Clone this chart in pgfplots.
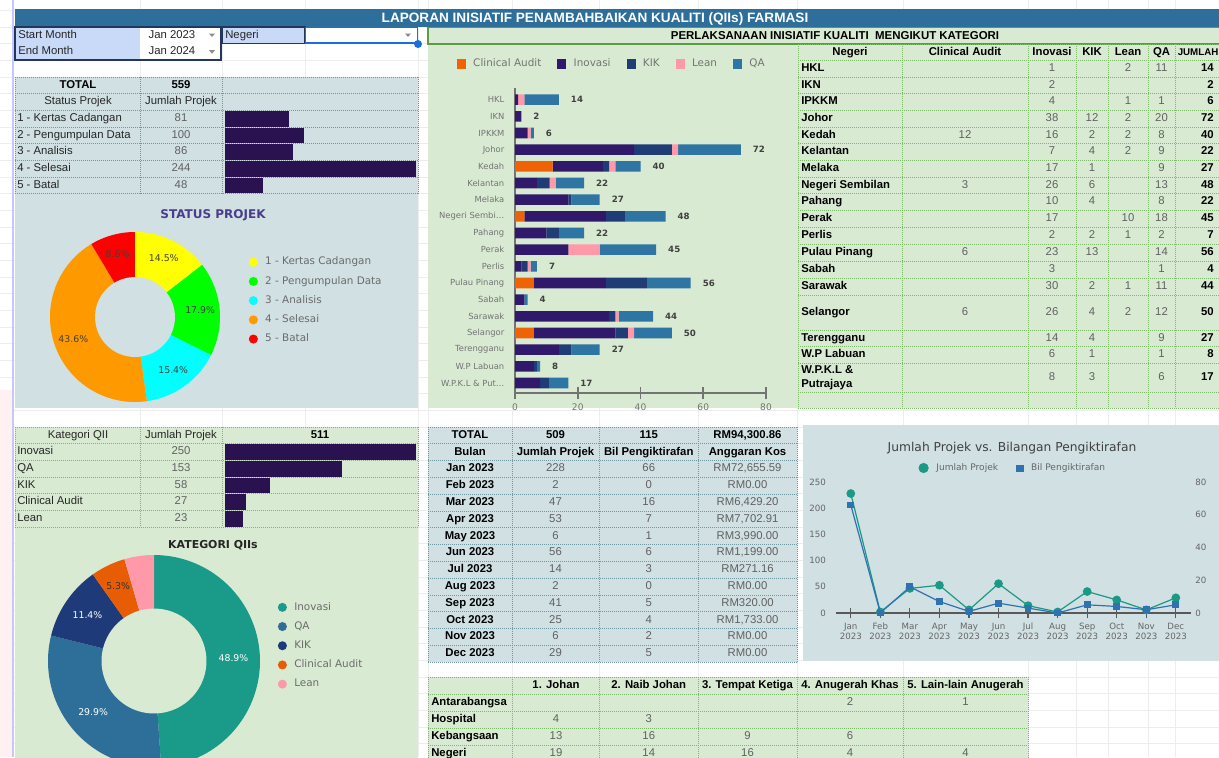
\documentclass[border=0pt]{standalone}
\usepackage{fontspec}
\setmainfont{Liberation Sans}
\newfontfamily\dv{DejaVu Sans}
\usepackage{pgfplots}
\pgfplotsset{compat=1.18}
\usepackage{pgfplotstable}

\definecolor{bgB}{HTML}{D0E0E3}
\definecolor{bgG}{HTML}{D9EAD3}
\definecolor{dotB}{HTML}{6F98A3}
\definecolor{dotG}{HTML}{7DB86A}
\definecolor{titleB}{HTML}{2E6E9B}
\definecolor{filt}{HTML}{C9DAF8}
\definecolor{navyb}{HTML}{23375E}
\definecolor{selB}{HTML}{1A6FE0}
\definecolor{mini}{HTML}{2A1150}
\definecolor{cCA}{HTML}{F06305}
\definecolor{cIno}{HTML}{30196B}
\definecolor{cKIK}{HTML}{1F3C77}
\definecolor{cLean}{HTML}{FF99AA}
\definecolor{cQA}{HTML}{2E75A3}
\definecolor{kIno}{HTML}{1A9A88}
\definecolor{kQA}{HTML}{2E6F99}
\definecolor{kKIK}{HTML}{1F3A78}
\definecolor{kCA}{HTML}{E85D04}
\definecolor{kLean}{HTML}{FF99AA}
\definecolor{sYel}{HTML}{FFFF00}
\definecolor{sGrn}{HTML}{00FF00}
\definecolor{sCya}{HTML}{00FFFF}
\definecolor{sOra}{HTML}{FF9900}
\definecolor{sRed}{HTML}{FF0000}
\definecolor{lTeal}{HTML}{1A9A85}
\definecolor{lBlue}{HTML}{2F72B0}
\definecolor{ptitle}{HTML}{4B3D8C}
\definecolor{hdrG}{HTML}{5E9A45}

\pgfplotstableread{
idx CA Ino KIK Lean QA Tot
17 0 1 0 2 11 14
16 0 2 0 0 0 2
15 0 4 0 1 1 6
14 0 38 12 2 20 72
13 12 16 2 2 8 40
12 0 7 4 2 9 22
11 0 17 1 0 9 27
10 3 26 6 0 13 48
9 0 10 4 0 8 22
8 0 17 0 10 18 45
7 0 2 2 1 2 7
6 6 23 13 0 14 56
5 0 3 0 0 1 4
4 0 30 2 1 11 44
3 6 26 4 2 12 50
2 0 14 4 0 9 27
1 0 6 1 0 1 8
0 0 8 3 0 6 17
}\bardata

\pgfplotstableread{
i jp bp
0 228 66
1 2 0
2 47 16
3 53 7
4 6 1
5 56 6
6 14 3
7 2 0
8 41 5
9 25 4
10 6 2
11 29 5
}\linedata

\newcommand{\slice}[4]{%
  \pgfmathsetmacro\angA{90-360/(#3)*(#2)}%
  \pgfmathsetmacro\angB{90-360/(#3)*(#1)}%
  \addplot[fill=#4, draw=none, domain=\angA:\angB, samples=61] ({cos(x)},{sin(x)}) -- (axis cs:0,0) -- cycle;
}

\tikzset{
  T/.style={inner sep=0pt, text height=6pt, text depth=1.6pt, font=\fontsize{8.5}{10}\selectfont, text=black!85},
  TB/.style={T, font=\fontsize{8.5}{10}\selectfont\bfseries, text=black},
  TG/.style={T, text=black!62},
  dB/.style={draw=dotB, line width=0.5pt, dash pattern=on 0.7pt off 0.8pt},
  dG/.style={draw=dotG, line width=0.5pt, dash pattern=on 0.7pt off 0.8pt},
}

\begin{document}
\begin{tikzpicture}
\useasboundingbox (0,0) rectangle (914.25pt,-567.75pt);
\clip (0,0) rectangle (914.25pt,-567.75pt);

\begin{scope}[x=0.75pt,y=-0.75pt]
% sheet background
\fill[white] (0,0) rectangle (1219,757);
\foreach \xx in {140,222,305,418,428,512.5,599.5,698,797,903,1028,1076,1108,1148,1175}
  \draw[black!7, line width=0.4pt] (\xx,0) -- (\xx,757);
\foreach \k in {0,...,45}
  \draw[black!7, line width=0.4pt] (0,{10.33+16.667*\k}) -- (1219,{10.33+16.667*\k});
\fill[pink!22] (0,390) rectangle (12,757);
\draw[blue!22, line width=0.8pt] (13,0) -- (13,757);

% title bar
\fill[titleB] (15,9) rectangle (1219,27);
\node[text=white, font=\fontsize{10.2}{11}\selectfont\bfseries, inner sep=0pt] at (595,18.5) {LAPORAN INISIATIF PENAMBAHBAIKAN KUALITI (QIIs) FARMASI};

% filters
\fill[filt] (15,27) rectangle (140,60);
\fill[white] (140,27) rectangle (221,60);
\draw[navyb, line width=0.8pt] (15,27) rectangle (221,60);
\node[T, anchor=west] at (18,35.3) {Start Month};
\node[T, anchor=west] at (18,52) {End Month};
\node[T] at (172,35.3) {Jan 2023};
\node[T] at (172,52) {Jan 2024};
\fill[black!45] (209,33.5) -- (215,33.5) -- (212,37) -- cycle;
\fill[black!45] (209,50.2) -- (215,50.2) -- (212,53.7) -- cycle;
\fill[filt] (222,27) rectangle (305,43.5);
\draw[navyb, line width=0.8pt] (222,27) rectangle (305,43.5);
\node[T, anchor=west] at (225,35.3) {Negeri};
\fill[white] (305,27) rectangle (418,43.5);
\draw[selB, line width=1.3pt] (305.5,27.5) rectangle (417.5,43);
\fill[black!45] (405,33.5) -- (411,33.5) -- (408,37) -- cycle;
\fill[selB] (418,44) circle (4);

% ===== status table + chart panel
\fill[bgB] (15,77) rectangle (418,408);
\foreach \yy in {77,93.7,110.3,127,143.7,160.3,177,193.7} \draw[dB] (15,\yy) -- (418,\yy);
\foreach \xx in {15,140,222,418} \draw[dB] (\xx,77) -- (\xx,193.7);
\node[TB] at (78,85.3) {TOTAL};
\node[TB] at (181,85.3) {559};
\node[T] at (78,102) {Status Projek};
\node[T] at (181,102) {Jumlah Projek};
\foreach \lab/\val [count=\i] in {1 - Kertas Cadangan/81,2 - Pengumpulan Data/100,3 - Analisis/86,4 - Selesai/244,5 - Batal/48}{
  \node[T, anchor=west] at (17,{110.3+(\i-0.5)*16.67}) {\lab};
  \node[TG] at (181,{110.3+(\i-0.5)*16.67}) {\val};
}
\node[font=\dv\fontsize{9}{10}\selectfont\bfseries, text=ptitle, inner sep=0pt] at (213,215) {STATUS PROJEK};

% ===== kategori table + chart panel
\fill[bgG] (15,427) rectangle (418,760);
\foreach \yy in {427,443.7,460.3,477,493.7,510.3,527} \draw[dG] (15,\yy) -- (418,\yy);
\foreach \xx in {15,140,222,418} \draw[dG] (\xx,427) -- (\xx,527);
\node[T] at (78,435.3) {Kategori QII};
\node[T] at (181,435.3) {Jumlah Projek};
\node[TB] at (320,435.3) {511};
\foreach \lab/\val [count=\i] in {Inovasi/250,QA/153,KIK/58,Clinical Audit/27,Lean/23}{
  \node[T, anchor=west] at (17,{443.7+(\i-0.5)*16.67}) {\lab};
  \node[TG] at (181,{443.7+(\i-0.5)*16.67}) {\val};
}
\node[font=\dv\fontsize{8.2}{10}\selectfont\bfseries, text=black!85, inner sep=0pt] at (213,545) {KATEGORI QIIs};

% ===== bar chart panel + right table
\fill[bgG] (428,44) rectangle (1219,408);
\fill[bgG] (428,27) rectangle (1219,44);
\draw[hdrG, line width=0.9pt] (428,27.5) rectangle (1225,44);
\node[font=\fontsize{8.6}{10}\selectfont\bfseries, inner sep=0pt] at (835,36) {PERLAKSANAAN INISIATIF KUALITI\ \ MENGIKUT KATEGORI};
\foreach \yy in {44,60.3,77,93.7,110.3,127,143.7,160.3,177,193.7,210.3,227.5,244.5,261.5,278,295,330,346.5,363,392,408}
  \draw[dG] (798,\yy) -- (1219,\yy);
\foreach \xx in {798,902,1028,1076,1108,1148,1175} \draw[dG] (\xx,44) -- (\xx,408);
\node[TB] at (850,52.2) {Negeri};
\node[TB] at (965,52.2) {Clinical Audit};
\node[TB] at (1052,52.2) {Inovasi};
\node[TB] at (1092,52.2) {KIK};
\node[TB] at (1128,52.2) {Lean};
\node[TB] at (1161.5,52.2) {QA};
\node[TB, anchor=west, font=\fontsize{7.3}{9}\selectfont\bfseries] at (1177.5,52.2) {JUMLAH};
\foreach \n/\ca/\ino/\kik/\lean/\qa/\tot/\yc in {HKL//1//2/11/14/68.7,IKN//2////2/85.3,IPKKM//4//1/1/6/102,Johor//38/12/2/20/72/118.7,Kedah/12/16/2/2/8/40/135.3,Kelantan//7/4/2/9/22/152,Melaka//17/1//9/27/168.7,Negeri Sembilan/3/26/6//13/48/185.3,Pahang//10/4//8/22/202,Perak//17//10/18/45/218.9,Perlis//2/2/1/2/7/236,Pulau Pinang/6/23/13//14/56/253,Sabah//3///1/4/269.7,Sarawak//30/2/1/11/44/286.5,Selangor/6/26/4/2/12/50/312.5,Terengganu//14/4//9/27/338.2,W.P Labuan//6/1//1/8/354.7}{
  \node[TB, anchor=west] at (801,\yc) {\n};
  \node[TG] at (965,\yc) {\ca};
  \node[TG] at (1052,\yc) {\ino};
  \node[TG] at (1092,\yc) {\kik};
  \node[TG] at (1128,\yc) {\lean};
  \node[TG] at (1161.5,\yc) {\qa};
  \node[TB, anchor=east] at (1214,\yc) {\tot};
}
\node[font=\fontsize{8.5}{10.5}\selectfont\bfseries, align=left, anchor=west, inner sep=0pt] at (801,378) {W.P.K.L \&\\Putrajaya};
\node[TG] at (1052,377.5) {8};
\node[TG] at (1092,377.5) {3};
\node[TG] at (1161.5,377.5) {6};
\node[TB, anchor=east] at (1214,377.5) {17};

% ===== monthly table
\fill[bgB] (428,427) rectangle (797,662);
\foreach \k in {0,...,14} \draw[dB] (428,{427+16.79*\k}) -- (797,{427+16.79*\k});
\foreach \xx in {428,512.5,599.5,698,797} \draw[dB] (\xx,427) -- (\xx,662);
\node[TB] at (470,435.4) {TOTAL};
\node[TB] at (555.5,435.4) {509};
\node[TB] at (648.75,435.4) {115};
\node[TB] at (747.5,435.4) {RM94,300.86};
\node[TB] at (470,452.2) {Bulan};
\node[TB] at (555.5,452.2) {Jumlah Projek};
\node[TB] at (648.75,452.2) {Bil Pengiktirafan};
\node[TB] at (747.5,452.2) {Anggaran Kos};
\foreach \m/\a/\b/\c [count=\k] in {{Jan 2023/228/66/RM72,655.59},{Feb 2023/2/0/RM0.00},{Mar 2023/47/16/RM6,429.20},{Apr 2023/53/7/RM7,702.91},{May 2023/6/1/RM3,990.00},{Jun 2023/56/6/RM1,199.00},{Jul 2023/14/3/RM271.16},{Aug 2023/2/0/RM0.00},{Sep 2023/41/5/RM320.00},{Oct 2023/25/4/RM1,733.00},{Nov 2023/6/2/RM0.00},{Dec 2023/29/5/RM0.00}}{
  \node[TB] at (470,{427+16.79*(\k+1.5)}) {\m};
  \node[TG] at (555.5,{427+16.79*(\k+1.5)}) {\a};
  \node[TG] at (648.75,{427+16.79*(\k+1.5)}) {\b};
  \node[TG] at (747.5,{427+16.79*(\k+1.5)}) {\c};
}

% ===== line chart panel
\fill[bgB] (803,425) rectangle (1219,661);
\node[font=\dv\fontsize{9.2}{11}\selectfont, text=black!75, inner sep=0pt] at (1012,448) {Jumlah Projek vs. Bilangan Pengiktirafan};

% ===== awards table
\fill[bgG] (428,677) rectangle (1028,762);
\foreach \yy in {677,694,711,728,745} \draw[dG] (428,\yy) -- (1028,\yy);
\foreach \xx in {428,512.5,599.5,698,797,903,1028} \draw[dG] (\xx,677) -- (\xx,762);
\node[TB] at (556,685.5) {1. Johan};
\node[TB] at (648.75,685.5) {2. Naib Johan};
\node[TB] at (747.5,685.5) {3. Tempat Ketiga};
\node[TB] at (850,685.5) {4. Anugerah Khas};
\node[TB] at (965.5,685.5) {5. Lain-lain Anugerah};
\foreach \n/\a/\b/\c/\d/\e/\yc in {Antarabangsa////2/1/702.5,Hospital/4/3////719.5,Kebangsaan/13/16/9/6//736.5,Negeri/19/14/16/4/4/753.5}{
  \node[TB, anchor=west] at (431,\yc) {\n};
  \node[TG] at (556,\yc) {\a};
  \node[TG] at (648.75,\yc) {\b};
  \node[TG] at (747.5,\yc) {\c};
  \node[TG] at (850,\yc) {\d};
  \node[TG] at (965.5,\yc) {\e};
}
\end{scope}

% ===== mini bars: status
\begin{axis}[at={(168.75pt,-145.275pt)}, anchor=south west, width=142.5pt, height=62.5pt,
  scale only axis, hide axis, xbar, bar width=11pt, xmin=0, xmax=244, ymin=-0.5, ymax=4.5, clip=false]
\addplot[fill=mini, draw=mini] coordinates {(81,4) (100,3) (86,2) (244,1) (48,0)};
\end{axis}

% ===== mini bars: kategori
\begin{axis}[at={(168.75pt,-395.25pt)}, anchor=south west, width=142.5pt, height=62.5pt,
  scale only axis, hide axis, xbar, bar width=11pt, xmin=0, xmax=250, ymin=-0.5, ymax=4.5, clip=false]
\addplot[fill=mini, draw=mini] coordinates {(250,4) (153,3) (58,2) (27,1) (23,0)};
\end{axis}

% ===== status donut
\begin{axis}[at={(37.5pt,-301.5pt)}, anchor=south west, width=127.5pt, height=127.5pt,
  scale only axis, hide axis, xmin=-1, xmax=1, ymin=-1, ymax=1, clip=false,
  legend style={at={(1.168,0.852)}, anchor=north west, draw=none, fill=none, inner sep=0pt,
    font=\dv\fontsize{7.8}{9}\selectfont, text=black!58, cells={anchor=west},
    row sep=7.2pt, column sep=5.5pt, nodes={inner sep=0pt, text height=5.6pt, text depth=1.6pt}},
  legend image code/.code={\fill[#1] (0pt,0pt) circle (3.4pt);}]
\slice{0}{81}{559}{sYel}\addlegendentry{1 - Kertas Cadangan}
\slice{81}{181}{559}{sGrn}\addlegendentry{2 - Pengumpulan Data}
\slice{181}{267}{559}{sCya}\addlegendentry{3 - Analisis}
\slice{267}{511}{559}{sOra}\addlegendentry{4 - Selesai}
\slice{511}{559}{559}{sRed}\addlegendentry{5 - Batal}
\addplot[fill=bgB, draw=none, domain=0:360, samples=121, forget plot] ({0.47*cos(x)},{0.47*sin(x)}) -- cycle;
\begin{scope}[every node/.style={font=\dv\fontsize{7}{8}\selectfont, text=black!75, inner sep=0pt}]
\node at (axis cs:{0.77*cos(63.92)},{0.77*sin(63.92)}) {14.5\%};
\node at (axis cs:{0.77*cos(5.64)},{0.77*sin(5.64)}) {17.9\%};
\node at (axis cs:{0.77*cos(-54.26)},{0.77*sin(-54.26)}) {15.4\%};
\node at (axis cs:{0.77*cos(-160.52)},{0.77*sin(-160.52)}) {43.6\%};
\node at (axis cs:{0.77*cos(-254.55)},{0.77*sin(-254.55)}) {8.6\%};
\end{scope}
\end{axis}

% ===== kategori donut
\begin{axis}[at={(36pt,-575.25pt)}, anchor=south west, width=159pt, height=159pt,
  scale only axis, hide axis, xmin=-1, xmax=1, ymin=-1, ymax=1, clip=false,
  legend style={at={(1.083,0.777)}, anchor=north west, draw=none, fill=none, inner sep=0pt,
    font=\dv\fontsize{7.8}{9}\selectfont, text=black!58, cells={anchor=west},
    row sep=7.2pt, column sep=5.5pt, nodes={inner sep=0pt, text height=5.6pt, text depth=1.6pt}},
  legend image code/.code={\fill[#1] (0pt,0pt) circle (3.4pt);}]
\slice{0}{250}{511}{kIno}\addlegendentry{Inovasi}
\slice{250}{403}{511}{kQA}\addlegendentry{QA}
\slice{403}{461}{511}{kKIK}\addlegendentry{KIK}
\slice{461}{488}{511}{kCA}\addlegendentry{Clinical Audit}
\slice{488}{511}{511}{kLean}\addlegendentry{Lean}
\addplot[fill=bgG, draw=none, domain=0:360, samples=121, forget plot] ({0.495*cos(x)},{0.495*sin(x)}) -- cycle;
\begin{scope}[every node/.style={font=\dv\fontsize{7}{8}\selectfont, text=white, inner sep=0pt}]
\node at (axis cs:{0.75*cos(1.94)},{0.75*sin(1.94)}) {48.9\%};
\node at (axis cs:{0.75*cos(-140.02)},{0.75*sin(-140.02)}) {29.9\%};
\node at (axis cs:{0.76*cos(-214.34)},{0.76*sin(-214.34)}) {11.4\%};
\node[text=black!80] at (axis cs:{0.78*cos(-244.29)},{0.78*sin(-244.29)}) {5.3\%};
\end{scope}
\end{axis}

% ===== stacked bar chart
\begin{axis}[at={(386.25pt,-294.75pt)}, anchor=south west, width=188.25pt, height=228.75pt,
  scale only axis, xbar stacked, bar width=7.9pt,
  xmin=0, xmax=80, ymin=-0.6, ymax=17.7,
  axis x line*=bottom, axis y line*=left,
  xtick={0,20,40,60,80}, tick align=center, major tick length=9pt,
  ytick={0,...,17},
  yticklabels={W.P.K.L \& Put…,W.P Labuan,Terengganu,Selangor,Sarawak,Sabah,Pulau Pinang,Perlis,Perak,Pahang,Negeri Sembi…,Melaka,Kelantan,Kedah,Johor,IPKKM,IKN,HKL},
  ytick style={draw=none},
  x axis line style={black!55, line width=1.2pt}, xtick style={black!55, line width=1.2pt},
  y axis line style={black!55, line width=0.8pt},
  /pgf/number format/assume math mode=true,
  yticklabel style={font=\dv\fontsize{6.3}{7}\selectfont, text=black!55},
  xticklabel style={font=\dv\fontsize{6.8}{8}\selectfont, text=black!55},
  clip=false,
  legend style={at={(0.387,1)}, anchor=center, yshift=18pt, draw=none, fill=none,
    legend columns=-1, font=\dv\fontsize{7.8}{9}\selectfont, text=black!55,
    /tikz/every odd column/.append style={column sep=3.5pt},
    /tikz/every even column/.append style={column sep=10pt}},
  legend image code/.code={\fill[#1] (0pt,-3.4pt) rectangle (6.8pt,3.4pt);}]
\addplot[fill=cCA, draw=none] table[x=CA, y=idx] {\bardata};
\addlegendentry{Clinical Audit}
\addplot[fill=cIno, draw=none] table[x=Ino, y=idx] {\bardata};
\addlegendentry{Inovasi}
\addplot[fill=cKIK, draw=none] table[x=KIK, y=idx] {\bardata};
\addlegendentry{KIK}
\addplot[fill=cLean, draw=none] table[x=Lean, y=idx] {\bardata};
\addlegendentry{Lean}
\addplot[fill=cQA, draw=none] table[x=QA, y=idx] {\bardata};
\addlegendentry{QA}
\end{axis}

% ===== totals labels (overlay axis, same geometry)
\begin{axis}[at={(386.25pt,-294.75pt)}, anchor=south west, width=188.25pt, height=228.75pt,
  scale only axis, hide axis, xbar, bar width=7.9pt,
  xmin=0, xmax=80, ymin=-0.6, ymax=17.7, clip=false,
  /pgf/number format/assume math mode=true,
  nodes near coords, nodes near coords style={anchor=west, xshift=5.5pt,
    font=\dv\bfseries\fontsize{6.5}{7}\selectfont, text=black!75}]
\addplot[draw=none, fill=none] table[x=Tot, y=idx] {\bardata};
\end{axis}

% ===== line chart (left axis)
\begin{axis}[at={(627pt,-459.75pt)}, anchor=south west, width=265.95pt, height=98.25pt,
  scale only axis, xmin=-0.5, xmax=11.5, ymin=0, ymax=250,
  axis x line*=bottom, axis y line*=left,
  y axis line style={draw=none}, ytick={0,50,...,250}, ytick style={draw=none},
  xtick={0,...,11},
  xticklabels={{Jan\\2023},{Feb\\2023},{Mar\\2023},{Apr\\2023},{May\\2023},{Jun\\2023},{Jul\\2023},{Aug\\2023},{Sep\\2023},{Oct\\2023},{Nov\\2023},{Dec\\2023}},
  xticklabel style={align=center, font=\dv\fontsize{6.5}{7.5}\selectfont, text=black!60},
  yticklabel style={font=\dv\fontsize{6.5}{7.5}\selectfont, text=black!60},
  /pgf/number format/assume math mode=true,
  tick align=center, major tick length=8pt,
  x axis line style={black!65, line width=0.9pt}, xtick style={black!65, line width=0.9pt},
  clip=false]
\addplot[lTeal, line width=0.9pt, mark=*, mark size=2.8pt] table[x=i, y=jp] {\linedata};
\end{axis}

% ===== line chart (right axis)
\begin{axis}[at={(627pt,-459.75pt)}, anchor=south west, width=265.95pt, height=98.25pt,
  scale only axis, xmin=-0.5, xmax=11.5, ymin=0, ymax=80,
  axis x line=none, axis y line*=right,
  y axis line style={draw=none}, ytick={0,20,...,80}, ytick style={draw=none},
  yticklabel style={font=\dv\fontsize{6.5}{7.5}\selectfont, text=black!60},
  /pgf/number format/assume math mode=true,
  clip=false,
  legend style={at={(0.5,1)}, anchor=center, yshift=10.5pt, draw=none, fill=none,
    legend columns=-1, font=\dv\fontsize{6.8}{8}\selectfont, text=black!60,
    /tikz/every odd column/.append style={column sep=4pt},
    /tikz/every even column/.append style={column sep=12pt}},
  legend image post style={}]
\addlegendimage{only marks, mark=*, lTeal, mark size=3.6pt}
\addlegendentry{Jumlah Projek}
\addlegendimage{only marks, mark=square*, lBlue, mark size=2.4pt}
\addlegendentry{Bil Pengiktirafan}
\addplot[lBlue, line width=0.9pt, mark=square*, mark size=2.1pt, forget plot] table[x=i, y=bp] {\linedata};
\end{axis}

\end{tikzpicture}
\end{document}
